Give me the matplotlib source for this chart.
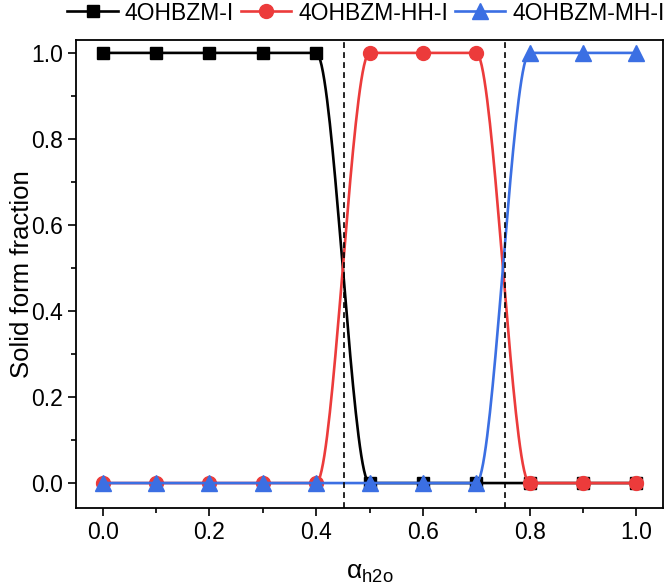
import numpy as np
import matplotlib
matplotlib.use('Agg')
import matplotlib.pyplot as plt
from matplotlib.ticker import MultipleLocator

plt.rcParams['font.family'] = ['Liberation Sans', 'DejaVu Sans']
plt.rcParams['mathtext.fontset'] = 'custom'
plt.rcParams['mathtext.rm'] = 'Liberation Sans'
plt.rcParams['mathtext.it'] = 'Liberation Sans:italic'

# water activity points and solid form fractions
a_h2o = [0.0, 0.1, 0.2, 0.3, 0.4, 0.5, 0.6, 0.7, 0.8, 0.9, 1.0]
form_I = [1, 1, 1, 1, 1, 0, 0, 0, 0, 0, 0]
form_HH = [0, 0, 0, 0, 0, 1, 1, 1, 0, 0, 0]
form_MH = [0, 0, 0, 0, 0, 0, 0, 0, 1, 1, 1]
labels = ['4OHBZM-I', '4OHBZM-HH-I', '4OHBZM-MH-I']
transitions = [0.453, 0.754]


def spline_line(x, y, n=40):
    # monotone cubic (pchip style) connection like Origin's spline line
    x = np.asarray(x, float)
    y = np.asarray(y, float)
    h = np.diff(x)
    d = np.diff(y) / h
    m = np.zeros(len(x))
    for k in range(1, len(x) - 1):
        if d[k - 1] * d[k] > 0:
            w1 = 2 * h[k] + h[k - 1]
            w2 = h[k] + 2 * h[k - 1]
            m[k] = (w1 + w2) / (w1 / d[k - 1] + w2 / d[k])
    xs, ys = [], []
    for k in range(len(x) - 1):
        t = np.linspace(0, 1, n)
        h00 = 2 * t**3 - 3 * t**2 + 1
        h10 = t**3 - 2 * t**2 + t
        h01 = -2 * t**3 + 3 * t**2
        h11 = t**3 - t**2
        xs.append(x[k] + t * h[k])
        ys.append(h00 * y[k] + h10 * h[k] * m[k] + h01 * y[k + 1] + h11 * h[k] * m[k + 1])
    return np.concatenate(xs), np.concatenate(ys)


fig = plt.figure(figsize=(6.66, 5.87), dpi=100)
ax = fig.add_axes([76 / 666, 79 / 587, 587 / 666, 468 / 587])

series = [form_I, form_HH, form_MH]
colors = ['black', '#EC3B3B', '#3B6FE3']
markers = ['s', 'o', '^']
msizes = [8.5, 10, 11]
handles = []
for ys, c, mk, ms, lab in zip(series, colors, markers, msizes, labels):
    sx, sy = spline_line(a_h2o, ys)
    ax.plot(sx, sy, '-', color=c, lw=1.9)
    ax.plot(a_h2o, ys, linestyle='none', marker=mk, ms=ms, color=c, mec=c)
    h, = ax.plot([], [], '-', color=c, lw=1.9, marker=mk, ms=ms, label=lab)
    handles.append(h)

for xv in transitions:
    ax.axvline(xv, color='black', lw=1.2, ls=(0, (3.5, 2.5)))

ax.set_xlim(-0.05, 1.05)
ax.set_ylim(-0.058, 1.03)
ax.xaxis.set_major_locator(MultipleLocator(0.2))
ax.xaxis.set_minor_locator(MultipleLocator(0.1))
ax.yaxis.set_major_locator(MultipleLocator(0.2))
ax.yaxis.set_minor_locator(MultipleLocator(0.1))
ax.tick_params(which='both', direction='out', labelsize=16.5, width=1.2)
ax.tick_params(which='major', length=6)
ax.tick_params(which='minor', length=3.5)
for sp in ax.spines.values():
    sp.set_linewidth(1.3)

ax.set_xlabel(r'$\mathrm{\alpha}_{\mathrm{h2o}}$', fontsize=19, labelpad=12)
ax.set_ylabel('Solid form fraction', fontsize=18.5)
ax.yaxis.set_label_coords(-0.072, 0.5)

fig.legend(handles=handles, loc='center', bbox_to_anchor=(366 / 666, 1 - 13 / 587),
           ncol=3, frameon=False, fontsize=16.5, handlelength=2.2,
           handletextpad=0.3, columnspacing=0.3, borderpad=0, borderaxespad=0)

fig.savefig('out.png', dpi=100)
